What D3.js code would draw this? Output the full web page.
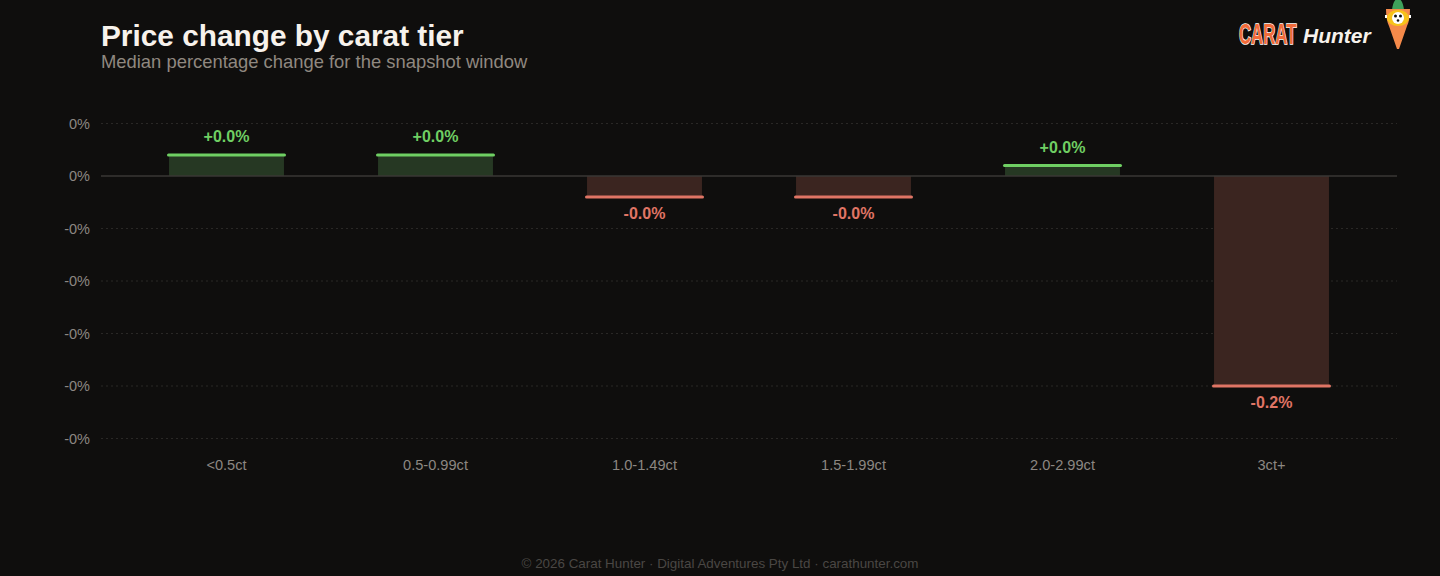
<!DOCTYPE html>
<html>
<head>
<meta charset="utf-8">
<script src="https://cdn.jsdelivr.net/npm/d3@7"></script>
<style>
  html, body { margin: 0; padding: 0; background: #0f0e0d; }
  svg { display: block; font-family: "Liberation Sans", Arial, sans-serif; }
</style>
</head>
<body>
<svg id="chart" width="1440" height="576"></svg>
<script>
// carat tiers and median change (percent)
const tiers = ['<0.5ct', '0.5-0.99ct', '1.0-1.49ct', '1.5-1.99ct', '2.0-2.99ct', '3ct+'];
const medianChange = [0.02, 0.02, -0.02, -0.02, 0.01, -0.2];
const yTicks = [0.05, 0, -0.05, -0.1, -0.15, -0.2, -0.25];

const W = 1440, H = 576;
const plot = { left: 101, right: 1397, top: 123.5, bottom: 438.5 };
const GREEN = '#6fcf63', GREEN_FILL = '#263823';
const RED = '#e07565', RED_FILL = '#3b2520';

const svg = d3.select('#chart');
svg.append('rect').attr('width', W).attr('height', H).attr('fill', '#0f0e0d');

const data = tiers.map((t, i) => ({ tier: t, value: medianChange[i] }));

const x = d3.scaleBand()
    .domain(tiers)
    .range([122, 1376])
    .paddingInner(0.45)
    .paddingOuter(0.225);

const y = d3.scaleLinear()
    .domain([-0.25, 0.05])
    .range([plot.bottom, plot.top]);

// grid + y labels
const yAxis = svg.append('g').attr('class', 'y-axis');
yAxis.selectAll('line.grid')
    .data(yTicks.filter(v => v !== 0))
    .enter()
    .append('line')
    .attr('class', 'grid')
    .attr('x1', plot.left)
    .attr('x2', plot.right)
    .attr('y1', d => y(d))
    .attr('y2', d => y(d))
    .attr('stroke', '#2a2826')
    .attr('stroke-width', 1)
    .attr('stroke-dasharray', '2,3');

yAxis.selectAll('text')
    .data(yTicks)
    .enter()
    .append('text')
    .attr('x', 90)
    .attr('y', d => y(d))
    .attr('dy', '0.35em')
    .attr('text-anchor', 'end')
    .attr('font-size', 14.5)
    .attr('fill', '#8c8782')
    .text(d => d.toFixed(0) + '%');

// bars
const bars = svg.append('g').attr('class', 'bars');
bars.selectAll('rect')
    .data(data)
    .enter()
    .append('rect')
    .attr('x', d => x(d.tier))
    .attr('width', x.bandwidth())
    .attr('y', d => Math.min(y(d.value), y(0)))
    .attr('height', d => Math.abs(y(d.value) - y(0)))
    .attr('fill', d => d.value >= 0 ? GREEN_FILL : RED_FILL);

// zero line
svg.append('line')
    .attr('x1', plot.left)
    .attr('x2', plot.right)
    .attr('y1', y(0))
    .attr('y2', y(0))
    .attr('stroke', '#3a3734')
    .attr('stroke-width', 1.5);

// end caps
bars.selectAll('line.cap')
    .data(data)
    .enter()
    .append('line')
    .attr('class', 'cap')
    .attr('x1', d => x(d.tier) - 0.5)
    .attr('x2', d => x(d.tier) + x.bandwidth() + 0.5)
    .attr('y1', d => y(d.value))
    .attr('y2', d => y(d.value))
    .attr('stroke', d => d.value >= 0 ? GREEN : RED)
    .attr('stroke-width', 3)
    .attr('stroke-linecap', 'round');

// value labels
const fmtValue = v => (v >= 0 ? '+' : '-') + Math.abs(v).toFixed(1) + '%';
bars.selectAll('text.value')
    .data(data)
    .enter()
    .append('text')
    .attr('class', 'value')
    .attr('x', d => x(d.tier) + x.bandwidth() / 2)
    .attr('y', d => d.value >= 0 ? y(d.value) - 13 : y(d.value) + 22)
    .attr('text-anchor', 'middle')
    .attr('font-size', 16)
    .attr('font-weight', 'bold')
    .attr('fill', d => d.value >= 0 ? GREEN : RED)
    .text(d => fmtValue(d.value));

// x labels
svg.append('g').selectAll('text')
    .data(tiers)
    .enter()
    .append('text')
    .attr('x', d => x(d) + x.bandwidth() / 2)
    .attr('y', 470)
    .attr('text-anchor', 'middle')
    .attr('font-size', 14.6)
    .attr('fill', '#8c8782')
    .text(d => d);

// title
svg.append('text')
    .attr('x', 101)
    .attr('y', 46)
    .attr('font-size', 29.8)
    .attr('font-weight', 'bold')
    .attr('fill', '#f7f2ec')
    .text('Price change by carat tier');
svg.append('text')
    .attr('x', 101)
    .attr('y', 68)
    .attr('font-size', 18.4)
    .attr('fill', '#8f8880')
    .text('Median percentage change for the snapshot window');

// footer
svg.append('text')
    .attr('x', 720)
    .attr('y', 568)
    .attr('text-anchor', 'middle')
    .attr('font-size', 13.4)
    .attr('fill', '#4a4744')
    .text('\u00a9 2026 Carat Hunter \u00b7 Digital Adventures Pty Ltd \u00b7 carathunter.com');

// logo
const logo = svg.append('g').attr('class', 'logo');
logo.append('g')
    .attr('transform', 'translate(1239,44) scale(0.56,1)')
    .append('text')
    .attr('x', 0)
    .attr('y', 0)
    .attr('font-size', 30)
    .attr('font-weight', 'bold')
    .attr('fill', '#f26b3a')
    .attr('stroke', '#ffffff')
    .attr('stroke-width', 1.6)
    .attr('paint-order', 'stroke')
    .text('CARAT');
logo.append('text')
    .attr('x', 1303)
    .attr('y', 43)
    .attr('font-size', 21)
    .attr('font-weight', 'bold')
    .attr('font-style', 'italic')
    .attr('fill', '#f7f2ec')
    .text('Hunter');

// carrot mascot
const carrot = logo.append('g').attr('transform', 'translate(1398,0)');
carrot.append('path')
    .attr('d', 'M-6,10 Q-5,0 0,-2 Q5,0 6,10 Z')
    .attr('fill', '#3fa05a');
carrot.append('path')
    .attr('d', 'M-12,9 L12,9 Q12,20 9,26 L1,49 L-1,49 L-9,26 Q-12,20 -12,9 Z')
    .attr('fill', '#f58a4a');
carrot.append('ellipse').attr('cx', 0).attr('cy', 18).attr('rx', 11).attr('ry', 8).attr('fill', '#f7c21a');
carrot.append('ellipse').attr('cx', 0).attr('cy', 18).attr('rx', 6).attr('ry', 6).attr('fill', '#ffffff');
carrot.append('circle').attr('cx', -2.5).attr('cy', 16).attr('r', 1.5).attr('fill', '#111');
carrot.append('circle').attr('cx', 2.5).attr('cy', 16).attr('r', 1.5).attr('fill', '#111');
carrot.append('circle').attr('cx', 0).attr('cy', 20.5).attr('r', 1.3).attr('fill', '#111');
carrot.append('rect').attr('x', -13).attr('y', 15).attr('width', 2).attr('height', 3).attr('fill', '#ffffff');
carrot.append('rect').attr('x', 11).attr('y', 15).attr('width', 2).attr('height', 3).attr('fill', '#ffffff');
</script>
</body>
</html>
